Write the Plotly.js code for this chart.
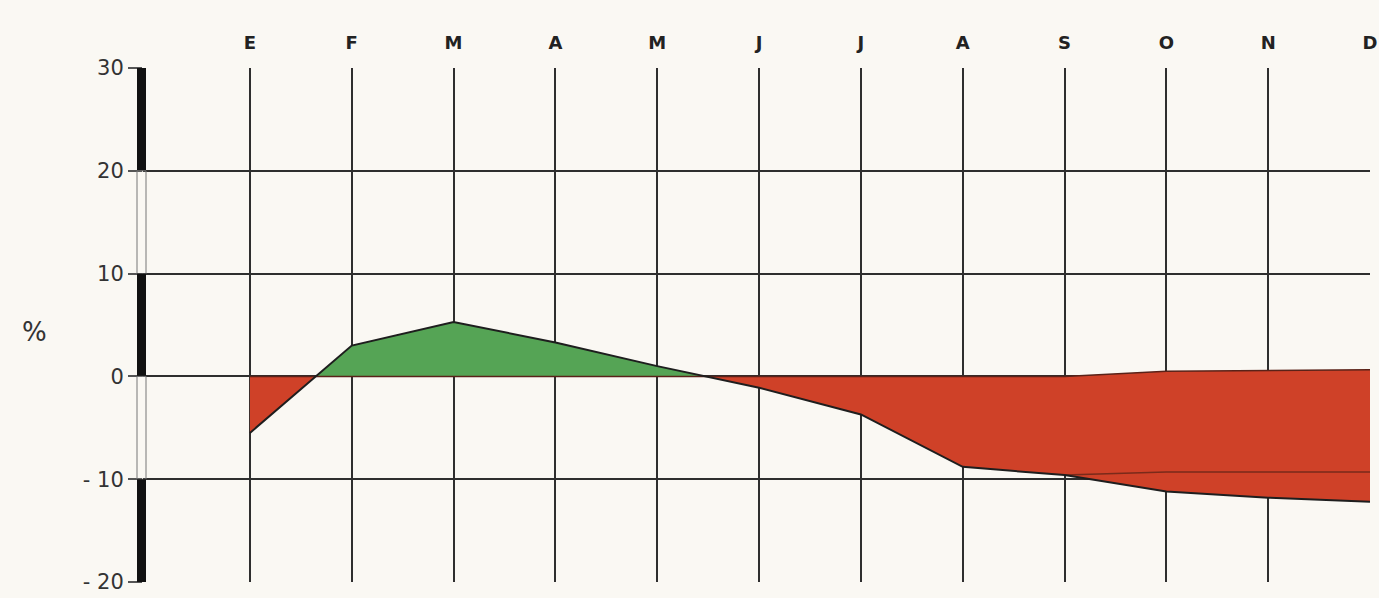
<!DOCTYPE html>
<html>
<head>
<meta charset="utf-8">
<script src="https://cdn.plot.ly/plotly-3.0.1.min.js"></script>
<style>html,body{margin:0;padding:0;background:#faf8f3;}#chart{width:1379px;height:598px;}</style>
</head>
<body>
<div id="chart"></div>
<script>
// ---- data ----
const months = ['E','F','M','A','M','J','J','A','S','O','N','D'];
const deviation = [-5.5, 3.0, 5.3, 3.3, 1.0, -1.1, -3.7, -8.8, -9.6, -11.2, -11.8, -12.2];
const baseline  = [0, 0, 0, 0, 0, 0, 0, 0, 0, 0.5, 0.55, 0.65];
const innerLine = [null, null, null, null, null, null, null, null, -9.6, -9.3, -9.3, -9.3];
const yTickVals = [30, 20, 10, 0, -10, -20];
const yTickText = ['30', '20', '10', '0', '- 10', '- 20'];

const xs = months.map((m, i) => i + 1);
const GREEN = '#55a455', RED = '#cf4128';

// split the area between curve and baseline into sign runs
function runs() {
  const out = [];
  let cur = null;
  for (let i = 0; i < xs.length; i++) {
    const d = deviation[i] - baseline[i];
    const s = d >= 0 ? 1 : -1;
    if (cur === null) { cur = {s, pts: [[xs[i], deviation[i], baseline[i]]]}; continue; }
    if (s !== cur.s) {
      const dp = deviation[i-1] - baseline[i-1];
      const t = dp / (dp - d);
      const xc = xs[i-1] + t * (xs[i] - xs[i-1]);
      const yc = baseline[i-1] + t * (baseline[i] - baseline[i-1]);
      cur.pts.push([xc, yc, yc]);
      out.push(cur);
      cur = {s, pts: [[xc, yc, yc]]};
    }
    cur.pts.push([xs[i], deviation[i], baseline[i]]);
  }
  out.push(cur);
  return out;
}

const traces = [];
runs().forEach(r => {
  const px = r.pts.map(p => p[0]).concat(r.pts.map(p => p[0]).reverse());
  const py = r.pts.map(p => p[1]).concat(r.pts.map(p => p[2]).reverse());
  traces.push({x: px, y: py, mode: 'lines', fill: 'toself',
    fillcolor: r.s > 0 ? GREEN : RED, line: {width: 0}, hoverinfo: 'skip', showlegend: false});
});
traces.push({x: xs, y: baseline, mode: 'lines', line: {color: '#5a2218', width: 1.5}, showlegend: false, hoverinfo: 'skip'});
traces.push({x: xs, y: innerLine, mode: 'lines', line: {color: '#7a2a1a', width: 1.5}, showlegend: false, connectgaps: false});
traces.push({x: xs, y: deviation, mode: 'lines', line: {color: '#1e1e1e', width: 2}, showlegend: false});

// alternating scale bar on the left axis
const shapes = [];
for (let i = 0; i < yTickVals.length - 1; i++) {
  const thick = i % 2 === 0;
  shapes.push({type: 'rect', xref: 'paper', yref: 'y', xsizemode: 'pixel', xanchor: 0,
    x0: -6, x1: 3, y0: yTickVals[i+1], y1: yTickVals[i],
    fillcolor: thick ? '#111' : 'rgba(0,0,0,0)',
    line: {color: thick ? '#111' : '#777', width: thick ? 0 : 1}, layer: 'above'});
}

const layout = {
  width: 1379, height: 598,
  margin: {l: 143, r: 9, t: 68, b: 16},
  paper_bgcolor: '#faf8f3', plot_bgcolor: '#faf8f3',
  xaxis: {range: [-0.05, 12], side: 'top', tickvals: xs, ticktext: months,
    showgrid: true, gridcolor: '#2e2e2e', gridwidth: 2, zeroline: false,
    ticks: '', showline: false, ticklabelstandoff: 14,
    tickfont: {family: 'DejaVu Sans', size: 18, color: '#222', weight: 'bold'}},
  yaxis: {range: [-20, 30], tickvals: yTickVals, ticktext: yTickText,
    showgrid: true, gridcolor: '#2e2e2e', gridwidth: 2, zeroline: false,
    ticks: 'outside', ticklen: 14, tickcolor: '#555', tickwidth: 2,
    tickfont: {family: 'DejaVu Sans', size: 21, color: '#333'}},
  shapes: shapes,
  annotations: [{text: '%', xref: 'paper', yref: 'y', x: -0.1, y: 4.3,
    showarrow: false, font: {family: 'DejaVu Sans', size: 26, color: '#333'}}]
};
Plotly.newPlot('chart', traces, layout, {displayModeBar: false, staticPlot: true});
</script>
</body>
</html>
